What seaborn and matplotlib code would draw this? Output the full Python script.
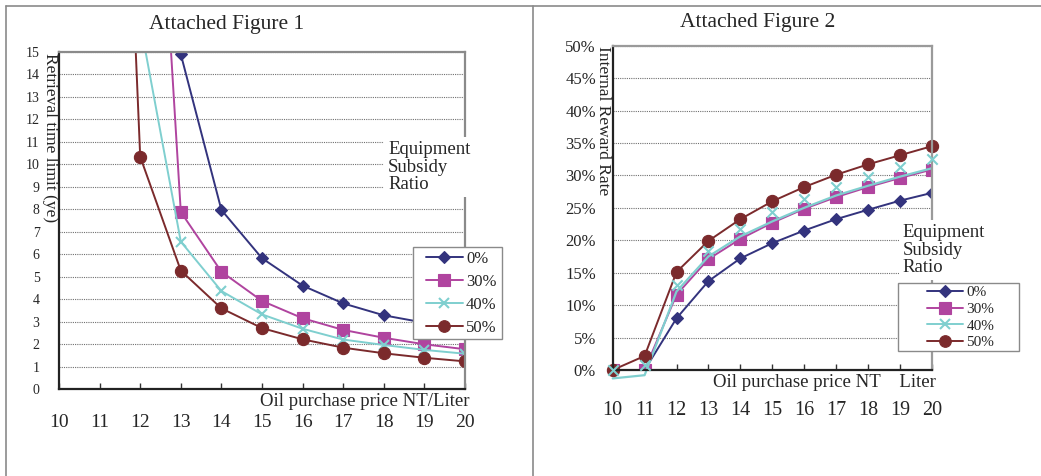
import numpy as np
import pandas as pd
import seaborn as sns
import matplotlib
matplotlib.use("Agg")
import matplotlib.pyplot as plt
from matplotlib.lines import Line2D
from matplotlib.patches import Rectangle

# ---- data -------------------------------------------------------------
prices = [10, 11, 12, 13, 14, 15, 16, 17, 18, 19, 20]
ratio_labels = ["0%", "30%", "40%", "50%"]

# Figure 1: retrieval time limit (years)
payback_0 = [np.nan, np.nan, np.nan, 14.9, 7.97, 5.82, 4.6, 3.81, 3.28, 2.95, 2.65]
payback_30 = [np.nan, np.nan, 37.5, 7.88, 5.22, 3.92, 3.15, 2.63, 2.28, 1.99, 1.77]
payback_40 = [np.nan, np.nan, 16.3, 6.56, 4.36, 3.32, 2.68, 2.2, 1.96, 1.74, 1.57]
payback_50 = [np.nan, 53.0, 10.34, 5.27, 3.59, 2.71, 2.21, 1.84, 1.59, 1.39, 1.23]

# Figure 2: internal reward rate (%)
irr_0 = [0.0, 0.0, 7.97, 13.7, 17.2, 19.55, 21.5, 23.25, 24.7, 26.1, 27.3]
irr_30 = [0.0, 0.0, 11.6, 17.1, 20.2, 22.7, 24.85, 26.65, 28.2, 29.6, 30.9]
irr_40_points = [0.0, 0.8, 13.1, 18.4, 21.7, 24.3, 26.4, 28.2, 29.8, 31.3, 32.5]
irr_40_trend = [-1.3, -0.8, 12.1, 17.5, 20.6, 22.9, 25.0, 26.9, 28.4, 29.8, 31.1]
irr_50 = [0.0, 2.16, 15.1, 19.9, 23.25, 26.0, 28.2, 30.1, 31.7, 33.1, 34.5]

colors = {"0%": "#33337d", "30%": "#b0449f", "40%": "#7fcfcf", "50%": "#7b2a2c"}
markers = {"0%": "D", "30%": "s", "40%": "x", "50%": "o"}
msizes = {"0%": 6.5, "30%": 8.8, "40%": 7, "50%": 8.8}

# ---- style ------------------------------------------------------------
sns.set_theme(style="white")
plt.rcParams["font.family"] = ["Liberation Serif", "DejaVu Serif"]

W, H = 1041, 476
fig = plt.figure(figsize=(W / 100, H / 100), dpi=100)
fig.patch.set_facecolor("white")


def px_axes(l, t, r, b):
    return fig.add_axes([l / W, 1 - b / H, (r - l) / W, (b - t) / H])


def style_axes(ax, top_color="#8a8a8a"):
    ax.set_facecolor("white")
    for side in ("left", "bottom"):
        ax.spines[side].set_color("#222222")
        ax.spines[side].set_linewidth(1.6)
    for side in ("top", "right"):
        ax.spines[side].set_color(top_color)
        ax.spines[side].set_linewidth(1.6)
    ax.yaxis.grid(True, linestyle=(0, (1, 1)), color="#707070", linewidth=0.8)
    ax.xaxis.grid(False)
    ax.set_xlim(10, 20)
    ax.set_xticks(prices)
    ax.set_xticklabels([str(p) for p in prices])
    ax.tick_params(axis="x", direction="in", length=4, width=1, color="#333333",
                   bottom=True, labelsize=14)
    ax.tick_params(axis="y", length=0)


def draw_series(ax, values, label, clip=True):
    df = pd.DataFrame({"price": prices, "value": values}).dropna()
    sns.lineplot(data=df, x="price", y="value", ax=ax, color=colors[label],
                 marker=markers[label], markersize=msizes[label],
                 markeredgewidth=1.5 if label == "40%" else 0.8,
                 markeredgecolor=colors[label], linewidth=1.4, clip_on=clip)


def legend_handles():
    return [Line2D([], [], color=colors[k], marker=markers[k],
                   markersize=msizes[k] * 0.95,
                   markeredgewidth=1.5 if k == "40%" else 0.8,
                   linewidth=1.4) for k in ratio_labels]


def legend_box(l, t, r, b, hx, cy, fs, hl, tp, ls):
    fig.add_artist(Rectangle((l / W, 1 - b / H), (r - l) / W, (b - t) / H,
                             transform=fig.transFigure, facecolor="white",
                             edgecolor="#8a8a8a", linewidth=1.0, zorder=5))
    leg = fig.legend(legend_handles(), ratio_labels, loc="center left",
                     bbox_to_anchor=(hx / W, 1 - cy / H), fontsize=fs,
                     frameon=False, handlelength=hl, handletextpad=tp,
                     labelspacing=ls, borderpad=0, borderaxespad=0)
    leg.set_zorder(6)
    return leg


# ---- Attached Figure 1 ------------------------------------------------
ax1 = px_axes(59, 52, 465, 389)
style_axes(ax1)
for vals, lab in zip([payback_0, payback_30, payback_40, payback_50], ratio_labels):
    draw_series(ax1, vals, lab)
ax1.set_xlabel("")
ax1.set_ylabel("")
ax1.set_ylim(0, 15)
ax1.set_yticks(range(0, 16))
ax1.set_yticklabels([str(v) for v in range(0, 16)])
ax1.tick_params(axis="y", labelsize=10, pad=14)
ax1.tick_params(axis="x", pad=18)
ax1.text(1.012, -0.038, "Oil purchase price NT/Liter", transform=ax1.transAxes,
         ha="right", va="center", fontsize=13.5)
ax1.text(-0.022, 0.998, "Retrieval time limit (ye)", transform=ax1.transAxes,
         ha="center", va="top", rotation=270, fontsize=12.5)
fig.text(227 / W, 1 - 25 / H, "Attached Figure 1", ha="center", va="center",
         fontsize=15.5)
fig.text(388 / W, 1 - 141 / H, "Equipment\nSubsidy\nRatio", ha="left", va="top",
         fontsize=13.5, linespacing=1.05,
         bbox=dict(facecolor="white", edgecolor="none", pad=3))
legend_box(413, 247, 502, 339, 426, 293.7, 12, 2.2, 0.2, 0.42)

# ---- Attached Figure 2 ------------------------------------------------
ax2 = px_axes(612.7, 45.7, 931.7, 370)
style_axes(ax2, top_color="#9a9a9a")
draw_series(ax2, irr_0, "0%")
draw_series(ax2, irr_30, "30%")
trend = pd.DataFrame({"price": prices, "value": irr_40_trend})
sns.lineplot(data=trend, x="price", y="value", ax=ax2, color=colors["40%"],
             linewidth=1.6, clip_on=False)
pts = pd.DataFrame({"price": prices, "value": irr_40_points})
sns.scatterplot(data=pts, x="price", y="value", ax=ax2, color=colors["40%"],
                marker="x", s=55, linewidth=1.5, clip_on=False, zorder=3)
draw_series(ax2, irr_50, "50%", clip=False)
ax2.set_xlabel("")
ax2.set_ylabel("")
ax2.set_ylim(0, 50)
ax2.set_yticks(range(0, 51, 5))
ax2.set_yticklabels([f"{v}%" for v in range(0, 51, 5)])
ax2.tick_params(axis="y", labelsize=12, pad=12)
ax2.tick_params(axis="x", labelsize=14.5, pad=22)
ax2.text(1.012, -0.04, "Oil purchase price NT    Liter", transform=ax2.transAxes,
         ha="right", va="center", fontsize=13.5)
ax2.text(-0.030, 1.0, "Internal Reward Rate", transform=ax2.transAxes,
         ha="center", va="top", rotation=270, fontsize=12.5)
fig.text(758 / W, 1 - 23 / H, "Attached Figure 2", ha="center", va="center",
         fontsize=15.5)
fig.text(902.7 / W, 1 - 224 / H, "Equipment\nSubsidy\nRatio", ha="left", va="top",
         fontsize=13.5, linespacing=1.05,
         bbox=dict(facecolor="white", edgecolor="none", pad=3))
legend_box(897.7, 282.7, 1019, 351, 926.7, 317.5, 11, 2.4, 0.2, 0.2)

# ---- page frame -------------------------------------------------------
frame_kw = dict(color="#8a8a8a", linewidth=1.2, transform=fig.transFigure)
fig.add_artist(Line2D([6 / W, 1], [1 - 6 / H, 1 - 6 / H], **frame_kw))
fig.add_artist(Line2D([6 / W, 6 / W], [0, 1 - 6 / H], **frame_kw))
fig.add_artist(Line2D([532.5 / W, 532.5 / W], [0, 1 - 6 / H], **frame_kw))

fig.savefig("out.png", dpi=100)
